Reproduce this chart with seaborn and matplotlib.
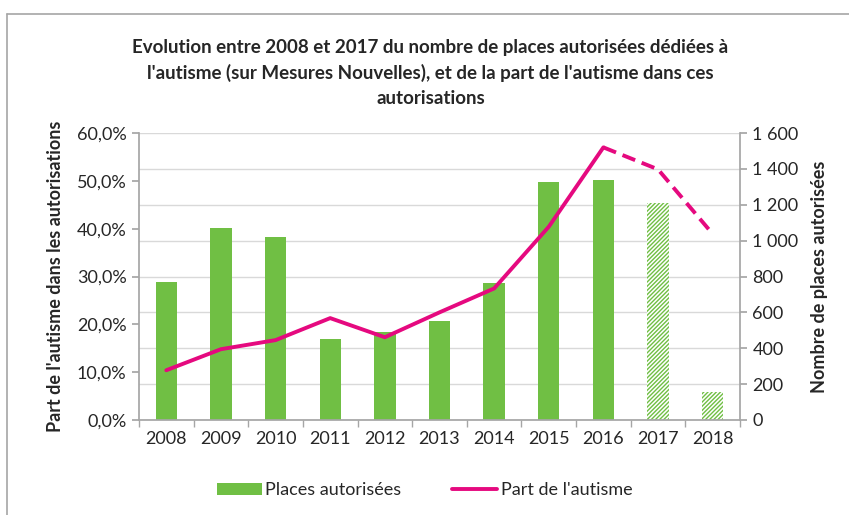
import numpy as np
import pandas as pd
import matplotlib.pyplot as plt
import seaborn as sns
from matplotlib.ticker import FuncFormatter, MultipleLocator
from matplotlib.patches import Patch
from matplotlib.lines import Line2D

# Data
years = ["2008", "2009", "2010", "2011", "2012", "2013", "2014", "2015", "2016", "2017", "2018"]
places = [768, 1068, 1018, 450, 492, 550, 762, 1327, 1338, 1210, 158]
part_autisme = [10.4, 14.8, 16.7, 21.3, 17.3, 22.5, 27.5, 40.4, 57.0, 52.4, 38.9]
n_real = 9  # 2008-2016 realised, 2017-2018 forecast

green = "#70BF44"
pink = "#E5097F"
txt = "#262626"

sns.set_theme(style="white")
plt.rcParams["font.family"] = ["Lato", "DejaVu Sans"]

df = pd.DataFrame({"annee": years, "places": places, "part": part_autisme})
df["pos"] = np.arange(len(df))

fig = plt.figure(figsize=(8.49, 5.15), dpi=100)
ax1 = fig.add_axes([0.1637, 0.1845, 0.7079, 0.5572])
ax2 = ax1.twinx()

# bars (right axis)
sns.barplot(data=df, x="annee", y="places", ax=ax1, color=green, width=0.39,
            saturation=1, zorder=2)
for i, bar in enumerate(ax1.patches):
    bar.set_linewidth(0)
    if i >= n_real:
        bar.set_facecolor("white")
        bar.set_edgecolor(green)
        bar.set_hatch("////////")

ax1.set_ylim(0, 1600)
ax1.yaxis.set_major_locator(MultipleLocator(200))
ax1.yaxis.set_major_formatter(FuncFormatter(lambda v, p: f"{int(v):,}".replace(",", " ")))
ax1.yaxis.tick_right()
ax1.yaxis.set_label_position("right")
ax1.set_ylabel("Nombre de places autorisées", fontsize=13, fontweight="bold", color=txt, labelpad=9)
ax1.set_xlabel("")

# line (left axis)
sns.lineplot(data=df.iloc[:n_real], x="pos", y="part", ax=ax2, color=pink, linewidth=2.8)
sns.lineplot(data=df.iloc[n_real - 1:], x="pos", y="part", ax=ax2, color=pink, linewidth=2.8,
             linestyle=(0, (3.5, 1.8)))
ax2.set_ylim(0, 60)
ax2.yaxis.set_major_locator(MultipleLocator(10))
ax2.yaxis.set_major_formatter(FuncFormatter(lambda v, p: f"{v:.1f}%".replace(".", ",")))
ax2.yaxis.tick_left()
ax2.yaxis.set_label_position("left")
ax2.set_ylabel("Part de l'autisme dans les autorisations", fontsize=13, fontweight="bold",
               color=txt, labelpad=9)
ax2.set_xlabel("")
ax2.set_xlim(-0.5, len(years) - 0.5)

# grid
ax1.grid(axis="y", color="#D9D9D9", linewidth=1, zorder=0)
ax1.set_axisbelow(True)

for ax in (ax1, ax2):
    for s in ax.spines.values():
        s.set_visible(False)
    ax.tick_params(labelsize=13, colors=txt, length=0)

for side in ("left", "right", "bottom"):
    ax2.spines[side].set_visible(True)
    ax2.spines[side].set_color("#A6A6A6")
ax2.tick_params(axis="y", length=5, color="#A6A6A6", direction="out", pad=4)
ax1.tick_params(axis="y", length=5, color="#A6A6A6", direction="out", pad=4, right=True)
ax1.tick_params(axis="x", pad=8)
ax1.set_xticks(np.arange(len(years)))
ax1.set_xticklabels(years)
ax1.set_xticks(np.arange(len(years) + 1) - 0.5, minor=True)
ax1.tick_params(axis="x", which="minor", length=5, color="#A6A6A6", bottom=True)

fig.suptitle("Evolution entre 2008 et 2017 du nombre de places autorisées dédiées à\n"
             "l'autisme (sur Mesures Nouvelles), et de la part de l'autisme dans ces\n"
             "autorisations", x=0.507, y=0.925, fontsize=13.5, fontweight="bold",
             color=txt, linespacing=1.55)

handles = [Patch(facecolor=green, edgecolor="none"),
           Line2D([0], [0], color=pink, linewidth=2.8)]
fig.legend(handles, ["Places autorisées", "Part de l'autisme"], loc="center",
           bbox_to_anchor=(0.5, 0.048), ncol=2, frameon=False, fontsize=13,
           handlelength=2.5, handletextpad=0.2, columnspacing=2.8, labelcolor=txt)

# chart border
fig.add_artist(plt.Line2D([7 / 849, 7 / 849], [0, 1 - 14 / 515], color="#A6A6A6", linewidth=1.2))
fig.add_artist(plt.Line2D([7 / 849, 1], [1 - 14 / 515, 1 - 14 / 515], color="#A6A6A6", linewidth=1.2))

fig.savefig("out.png", dpi=100)
